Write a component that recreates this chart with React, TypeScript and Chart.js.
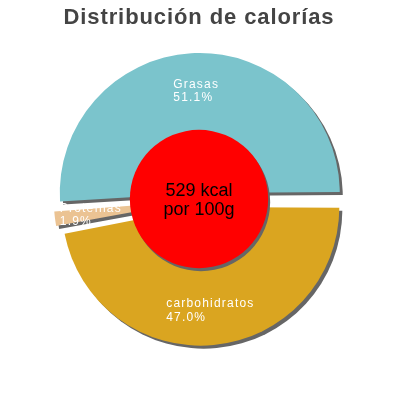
import { useEffect, useRef } from "react";
import { ArcElement, Chart, DoughnutController } from "chart.js";

Chart.register(DoughnutController, ArcElement);

// data (clockwise from 3 o'clock)
const categories = ["carbohidratos", "Proteínas", "Grasas"];
const percentages = [47.0, 1.9, 51.1];
const sliceColors = ["#daa520", "#ebc393", "#7bc4cc"];
const titleText = "Distribución de calorías";
const centerLines = ["529 kcal", "por 100g"];

const FONT = '"Liberation Sans", Arial, sans-serif';
const SLICE_OFFSET = 28; // chart.js translates arcs by offset / 4

const decorPlugin = {
  id: "decor",
  beforeDatasetsDraw(chart: any) {
    const ctx = chart.ctx;
    ctx.save();
    ctx.shadowColor = "#666666";
    ctx.shadowOffsetX = 3;
    ctx.shadowOffsetY = 3;
    ctx.shadowBlur = 0;
  },
  afterDatasetsDraw(chart: any) {
    const ctx = chart.ctx;
    ctx.restore();
    const arcs = chart.getDatasetMeta(0).data as any[];
    if (!arcs.length) return;
    const cx = arcs[0].x;
    const cy = arcs[0].y;
    const R = arcs[0].outerRadius;

    // red centre disc
    ctx.save();
    ctx.shadowColor = "#666666";
    ctx.shadowOffsetX = 2;
    ctx.shadowOffsetY = 3;
    ctx.beginPath();
    ctx.arc(cx - 1, cy - 1, R * 0.52, 0, Math.PI * 2);
    ctx.fillStyle = "#ff0000";
    ctx.fill();
    ctx.restore();

    // slice labels
    ctx.save();
    ctx.font = `12px ${FONT}`;
    (ctx as any).letterSpacing = "1.2px";
    ctx.fillStyle = "#ffffff";
    ctx.textAlign = "left";
    ctx.textBaseline = "alphabetic";
    arcs.forEach((arc, i) => {
      const mid = (arc.startAngle + arc.endAngle) / 2;
      const dist = SLICE_OFFSET / 4 + R * 0.775;
      const px = cx + Math.cos(mid) * dist;
      const py = cy + Math.sin(mid) * dist;
      const lines = [categories[i], percentages[i].toFixed(1) + "%"];
      const w = Math.max(...lines.map((l) => ctx.measureText(l).width));
      const x0 = px - w / 2;
      ctx.fillText(lines[0], x0, py - 2.4);
      ctx.fillText(lines[1], x0, py + 11);
    });
    ctx.restore();

    // centre text
    ctx.save();
    ctx.font = `18px ${FONT}`;
    ctx.fillStyle = "#000000";
    ctx.textAlign = "center";
    ctx.fillText(centerLines[0], cx - 1, cy - 4);
    ctx.fillText(centerLines[1], cx - 1, cy + 15);
    ctx.restore();
  },
  afterDraw(chart: any) {
    const ctx = chart.ctx;
    ctx.save();
    ctx.font = `bold 22px ${FONT}`;
    (ctx as any).letterSpacing = "0.9px";
    ctx.fillStyle = "#444444";
    ctx.textAlign = "center";
    ctx.fillText(titleText, chart.width / 2 - 1, 24);
    ctx.restore();
  },
};

export default function App() {
  const canvasRef = useRef<HTMLCanvasElement>(null);

  useEffect(() => {
    if (!canvasRef.current) return;
    const chart = new Chart(canvasRef.current, {
      type: "doughnut",
      data: {
        labels: categories,
        datasets: [
          {
            data: percentages,
            backgroundColor: sliceColors,
            borderWidth: 0,
            offset: SLICE_OFFSET,
            hoverOffset: 0,
            clip: false,
          } as any,
        ],
      },
      options: {
        animation: false,
        responsive: true,
        maintainAspectRatio: false,
        rotation: 90,
        cutout: 0,
        events: [],
        layout: { padding: 53 },
        plugins: { legend: { display: false }, tooltip: { enabled: false } },
      } as any,
      plugins: [decorPlugin],
    });
    return () => chart.destroy();
  }, []);

  return (
    <div style={{ position: "absolute", left: 0, top: 0, width: 400, height: 400 }}>
      <canvas ref={canvasRef} />
    </div>
  );
}
